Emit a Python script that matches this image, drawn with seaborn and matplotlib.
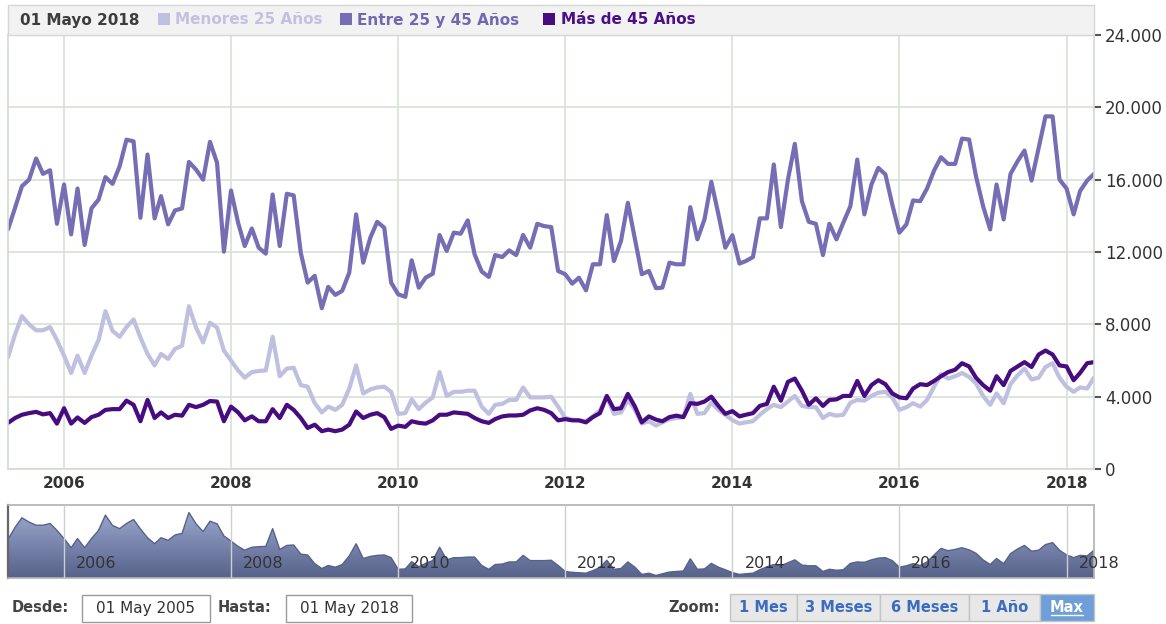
import pandas as pd
import numpy as np
import matplotlib
matplotlib.use("Agg")
import matplotlib.pyplot as plt
from matplotlib.patches import Rectangle
from matplotlib.colors import LinearSegmentedColormap
from matplotlib.transforms import offset_copy
import seaborn as sns

# --- data: monthly values May 2005 - May 2018 ---
fechas = pd.date_range('2005-05-01', periods=157, freq='MS')

menores_25 = [
    6180, 7450, 8450, 8000, 7670, 7670, 7850, 7130, 6270, 5310, 6270, 5310, 6270, 7130, 8730, 7640,
    7310, 7850, 8270, 7270, 6360, 5730, 6360, 6090, 6640, 6820, 9000, 7820, 7000, 8090, 7820, 6550,
    6000, 5450, 5050, 5360, 5420, 5450, 7310, 5130, 5550, 5600, 4640, 4550, 3640, 3130, 3450, 3270,
    3550, 4450, 5730, 4180, 4400, 4510, 4550, 4270, 3050, 3090, 3850, 3310, 3670, 3960, 5360, 4040,
    4270, 4270, 4330, 4330, 3450, 3050, 3550, 3600, 3820, 3820, 4510, 3960, 3960, 3960, 4000, 3450,
    2820, 2730, 2690, 2640, 2910, 3240, 4000, 3050, 3130, 3820, 3270, 2510, 2640, 2400, 2580, 2760,
    2820, 2870, 4150, 3050, 3090, 3670, 3270, 3000, 2700, 2510, 2580, 2640, 3000, 3310, 3550, 3420,
    3730, 4040, 3490, 3420, 3420, 2820, 3050, 2950, 3000, 3670, 3820, 3780, 4040, 4220, 4270, 3960,
    3270, 3420, 3640, 3450, 3820, 4550, 5240, 5000, 5130, 5310, 5090, 4730, 4040, 3550, 4180, 3640,
    4690, 5180, 5550, 4950, 5050, 5640, 5850, 5050, 4550, 4270, 4510, 4450, 5050,
]
entre_25_45 = [
    13250, 14450, 15640, 16000, 17170, 16320, 16520, 13560, 15730, 12975, 15510, 12390, 14410, 14900,
    16140, 15770, 16740, 18210, 18120, 13890, 17390, 13860, 15090, 13530, 14300, 14410, 16980, 16560,
    16000, 18090, 16930, 12020, 15400, 13620, 12330, 13300, 12240, 11910, 15180, 12330, 15220, 15130,
    11960, 10310, 10680, 8890, 10070, 9630, 9850, 10860, 14080, 11410, 12790, 13670, 13340, 10310,
    9660, 9520, 11540, 10030, 10580, 10800, 12940, 12060, 13070, 13010, 13750, 11870, 10920, 10620,
    11830, 11720, 12090, 11830, 12940, 12240, 13560, 13430, 13380, 10950, 10770, 10250, 10580, 9880,
    11320, 11320, 14040, 11500, 12610, 14720, 12700, 10770, 10950, 10000, 10030, 11410, 11320, 11320,
    14480, 12700, 13800, 15880, 14080, 12240, 12930, 11360, 11500, 11720, 13860, 13860, 16840, 13380,
    16010, 17980, 14810, 13670, 13560, 11830, 13560, 12700, 13620, 14540, 17110, 14080, 15730, 16650,
    16290, 14630, 13070, 13530, 14850, 14810, 15510, 16510, 17240, 16870, 16870, 18270, 18220, 16190,
    14540, 13250, 15730, 13800, 16320, 17020, 17610, 15950, 17760, 19500, 19500, 16010, 15510, 14080,
    15370, 15950, 16320,
]
mas_45 = [
    2550, 2820, 3000, 3090, 3160, 3020, 3090, 2510, 3360, 2510, 2850, 2550, 2870, 3000, 3270, 3310,
    3310, 3780, 3550, 2640, 3820, 2820, 3130, 2820, 3000, 2950, 3550, 3420, 3550, 3760, 3730, 2640,
    3450, 3130, 2690, 2910, 2640, 2640, 3310, 2820, 3550, 3270, 2820, 2270, 2450, 2090, 2180, 2090,
    2180, 2450, 3180, 2820, 3000, 3090, 2870, 2220, 2400, 2330, 2640, 2550, 2510, 2690, 3000, 3000,
    3130, 3090, 3050, 2820, 2640, 2550, 2760, 2910, 2960, 2960, 3000, 3240, 3360, 3270, 3090, 2690,
    2760, 2690, 2690, 2580, 2870, 3090, 4040, 3310, 3360, 4150, 3450, 2580, 2910, 2730, 2640, 2870,
    2950, 2870, 3640, 3600, 3730, 4000, 3490, 3050, 3200, 2910, 3000, 3090, 3490, 3600, 4550, 3780,
    4820, 5000, 4330, 3550, 3910, 3490, 3820, 3850, 4040, 4040, 4870, 4040, 4640, 4910, 4690, 4180,
    3960, 3910, 4450, 4690, 4640, 4870, 5130, 5360, 5490, 5850, 5670, 5050, 4640, 4330, 5130, 4640,
    5420, 5670, 5910, 5640, 6330, 6550, 6330, 5730, 5670, 4910, 5310, 5850, 5910,
]

series_names = ['Menores 25 Años', 'Entre 25 y 45 Años', 'Más de 45 Años']
series_colors = ['#bfbfe0', '#766db4', '#470c80']
label_colors = ['#c2c1e2', '#7168b0', '#4a1088']
year_ticks = ['2006', '2008', '2010', '2012', '2014', '2016', '2018']
y_ticks = [0, 4000, 8000, 12000, 16000, 20000, 24000]
header_date = '01 Mayo 2018'
desde, hasta = '01 May 2005', '01 May 2018'
zoom_buttons = ['1 Mes', '3 Meses', '6 Meses', '1 Año', 'Max']

df = pd.DataFrame({'fecha': np.tile(fechas, 3),
                   'valor': menores_25 + entre_25_45 + mas_45,
                   'serie': np.repeat(series_names, len(fechas))})

sns.set_theme(style='white')
plt.rcParams['font.family'] = ['DejaVu Sans']

W, H = 1166, 624
fig = plt.figure(figsize=(W / 100, H / 100), dpi=100)
fig.patch.set_facecolor('white')

def px_axes(x0, y0, x1, y1):
    return fig.add_axes([x0 / W, 1 - y1 / H, (x1 - x0) / W, (y1 - y0) / H])

grid_c = '#dae3da'
tick_dates = pd.to_datetime([y + '-01-01' for y in year_ticks])

# --- main chart ---
ax = px_axes(8, 35, 1094, 469)
sns.lineplot(data=df, x='fecha', y='valor', hue='serie', hue_order=series_names,
             palette=series_colors, linewidth=3.0, legend=False, ax=ax)
ax.set_xlim(fechas[0], fechas[-1])
ax.set_ylim(0, 24000)
ax.set_xticks(tick_dates)
ax.set_xticklabels(year_ticks, fontweight='bold', fontsize=11, color='#333333')
ax.yaxis.tick_right()
ax.set_yticks(y_ticks)
ax.set_yticklabels([f'{v:,}'.replace(',', '.') for v in y_ticks], fontsize=12, color='#333333')
ax.tick_params(axis='x', length=0, pad=5)
ax.tick_params(axis='y', length=5, width=1.5, color='#555555', pad=3)
ax.grid(True, color=grid_c, lw=1.3)
ax.set_axisbelow(True)
ax.set_xlabel('')
ax.set_ylabel('')
for s in ax.spines.values():
    s.set_color('#d2d9d2')
    s.set_linewidth(1.2)

# --- navigator (first series, own scale) ---
nav = px_axes(8, 505, 1094, 578)
lo = min(menores_25) - 0.04 * (max(menores_25) - min(menores_25))
hi = max(menores_25) + 0.12 * (max(menores_25) - min(menores_25))
area = nav.fill_between(fechas, menores_25, lo, color='none', lw=0)
grad = LinearSegmentedColormap.from_list('nav', ['#56628a', '#9aa6cc'])
img = nav.imshow(np.linspace(0, 1, 100).reshape(-1, 1), cmap=grad, aspect='auto', origin='lower',
                 extent=[fechas[0], fechas[-1], lo, max(menores_25)], zorder=1)
img.set_clip_path(area.get_paths()[0], transform=nav.transData)
nav.plot(fechas, menores_25, color='#56628a', lw=1, zorder=2)
nav.set_xlim(fechas[0], fechas[-1])
nav.set_ylim(lo, hi)
nav.set_xticks([])
nav.set_yticks([])
for d, lab in zip(tick_dates, year_ticks):
    nav.axvline(d, color='#cfcfcf', lw=1, zorder=3)
    nav.text(d, 0.2, lab, transform=offset_copy(nav.get_xaxis_transform(), fig=fig, x=12, units='dots'),
             ha='left', va='center', fontsize=11.5, color='#333333', zorder=4)
for s in nav.spines.values():
    s.set_color('#b4b4b4')
nav.spines['left'].set_color('#666666')
nav.spines['left'].set_linewidth(1.6)

# --- overlay: header and controls in pixel coords ---
ov = px_axes(0, 0, W, H)
ov.set_xlim(0, W)
ov.set_ylim(H, 0)
ov.axis('off')
ov.patch.set_alpha(0)

ov.add_patch(Rectangle((8, 5), 1086, 30, facecolor='#f2f2f2', edgecolor='#d6d6d6', lw=1))
ov.text(20, 20, header_date, fontsize=11, fontweight='bold', color='#3d3d3d', va='center', ha='left')
for x_sq, x_txt, name, c_sq, c_txt in zip([158, 340, 543], [175, 357, 561], series_names,
                                          series_colors, label_colors):
    ov.add_patch(Rectangle((x_sq, 13), 12, 12, facecolor=c_sq, edgecolor='none'))
    ov.text(x_txt, 20, name, fontsize=11, fontweight='bold', color=c_txt, va='center', ha='left')

ov.text(12, 608, 'Desde:', fontsize=10.5, fontweight='bold', color='#444444', va='center')
ov.add_patch(Rectangle((82, 595), 128, 27, facecolor='white', edgecolor='#9a9a9a', lw=1))
ov.text(146, 608, desde, fontsize=11, color='#333333', va='center', ha='center')
ov.text(218, 608, 'Hasta:', fontsize=10.5, fontweight='bold', color='#444444', va='center')
ov.add_patch(Rectangle((286, 595), 126, 27, facecolor='white', edgecolor='#9a9a9a', lw=1))
ov.text(349, 608, hasta, fontsize=11, color='#333333', va='center', ha='center')

ov.text(720, 607, 'Zoom:', fontsize=10.5, fontweight='bold', color='#444444', va='center', ha='right')
btn_edges = [730, 797, 880, 969, 1040, 1094]
for i, lab in enumerate(zoom_buttons):
    x0, x1 = btn_edges[i], btn_edges[i + 1]
    active = lab == 'Max'
    ov.add_patch(Rectangle((x0, 594), x1 - x0, 27, facecolor='#6f9fd8' if active else '#e8e8e8',
                           edgecolor='#c4c4c4', lw=1))
    ov.text((x0 + x1) / 2, 607, lab, fontsize=10.5, fontweight='bold',
            color='white' if active else '#3a6cbf', va='center', ha='center')
    if active:
        ov.plot([(x0 + x1) / 2 - 16, (x0 + x1) / 2 + 16], [615, 615], color='white', lw=1)

fig.savefig('out.png', dpi=100)
